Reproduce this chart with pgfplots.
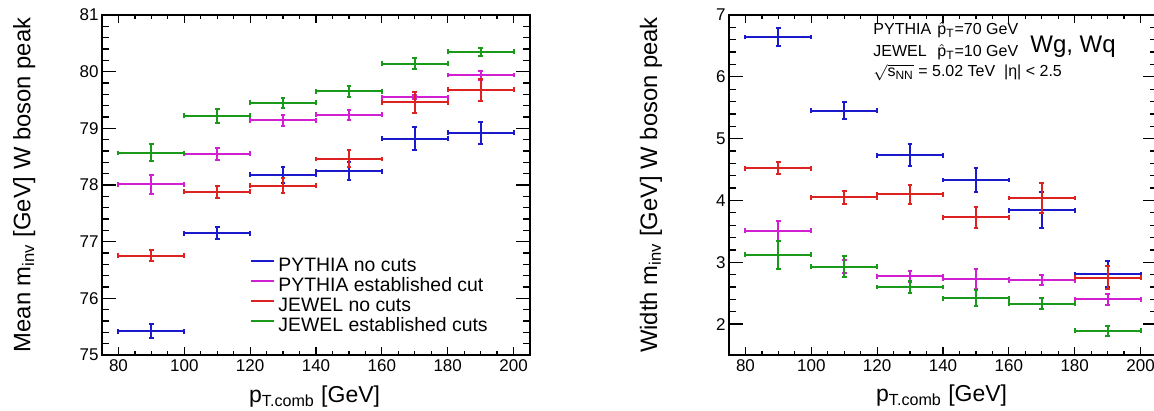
\documentclass[border=0pt]{standalone}
\usepackage{fontspec}
\setmainfont{Liberation Sans}
\usepackage{pgfplots}
\pgfplotsset{compat=1.18}
\definecolor{cblue}{HTML}{1A1ACC}
\definecolor{cmag}{HTML}{D21FD2}
\definecolor{cred}{HTML}{DD2222}
\definecolor{cgreen}{HTML}{1A9A1A}
\newcommand{\phat}{$\hat{\mbox{p}}$}
\pgfplotsset{
  rootstyle/.style={
    scale only axis, width=214pt, height=170pt,
    xmin=75, xmax=205, xtick={80,100,...,200}, minor x tick num=3,
    tick align=inside, tick pos=both,
    major tick length=7pt, minor tick length=3.5pt,
    xtick style={/pgfplots/major tick length=4pt, /pgfplots/minor tick length=2pt},
    axis line style={line width=0.8pt},
    tick style={line width=0.6pt, black},
    ticklabel style={font=\fontsize{8.5}{10}\selectfont},
    /pgf/number format/assume math mode=true,
    yticklabel style={inner xsep=1.5pt},
    xticklabel style={inner ysep=2pt},
  },
  ebar/.style={only marks, mark=text, text mark={}, line width=1pt,
    error bars/.cd, x dir=both, x explicit, y dir=both, y explicit,
    error bar style={line width=1pt},
    error mark options={rotate=90, line width=1pt, mark size=1.2pt},
    /pgfplots/.cd},
}
\begin{document}
\begin{tikzpicture}
\useasboundingbox (0,0) rectangle (577pt,205.5pt);
% ---------- left panel ----------
\begin{axis}[rootstyle, at={(51pt,28pt)}, anchor=south west,
  ymin=75, ymax=81, ytick={75,76,...,81}, minor y tick num=4,
  legend style={at={(0.346,0.291)}, anchor=north west, draw=none, fill=none,
    inner sep=0pt, row sep=0pt, font=\fontsize{9.7}{11}\selectfont,
    nodes={text height=7.5pt, text depth=2.5pt, inner sep=0pt, inner xsep=1.5pt}},
  legend cell align=left,
]
\addlegendimage{legend image code/.code={\draw[cblue,line width=1pt] (0pt,2.5pt) -- (11.5pt,2.5pt);}}
\addlegendentry{PYTHIA no cuts}
\addlegendimage{legend image code/.code={\draw[cmag,line width=1pt] (0pt,2.5pt) -- (11.5pt,2.5pt);}}
\addlegendentry{PYTHIA established cut}
\addlegendimage{legend image code/.code={\draw[cred,line width=1pt] (0pt,2.5pt) -- (11.5pt,2.5pt);}}
\addlegendentry{JEWEL no cuts}
\addlegendimage{legend image code/.code={\draw[cgreen,line width=1pt] (0pt,2.5pt) -- (11.5pt,2.5pt);}}
\addlegendentry{JEWEL established cuts}
\addplot[cblue, forget plot, ebar] coordinates {
 (90,75.42) +- (10,0.12)
 (110,77.15) +- (10,0.11)
 (130,78.18) +- (10,0.14)
 (150,78.24) +- (10,0.16)
 (170,78.82) +- (10,0.20)
 (190,78.92) +- (10,0.19)
};
\addplot[cmag, forget plot, ebar] coordinates {
 (90,78.01) +- (10,0.17)
 (110,78.55) +- (10,0.11)
 (130,79.14) +- (10,0.10)
 (150,79.24) +- (10,0.09)
 (170,79.55) +- (10,0.04)
 (190,79.94) +- (10,0.08)
};
\addplot[cred, forget plot, ebar] coordinates {
 (90,76.75) +- (10,0.10)
 (110,77.88) +- (10,0.11)
 (130,77.99) +- (10,0.13)
 (150,78.46) +- (10,0.15)
 (170,79.46) +- (10,0.19)
 (190,79.68) +- (10,0.19)
};
\addplot[cgreen, forget plot, ebar] coordinates {
 (90,78.565) +- (10,0.15)
 (110,79.22) +- (10,0.13)
 (130,79.45) +- (10,0.09)
 (150,79.65) +- (10,0.09)
 (170,80.14) +- (10,0.10)
 (190,80.35) +- (10,0.07)
};
\end{axis}
% ---------- right panel ----------
\begin{axis}[rootstyle, at={(364.5pt,28pt)}, anchor=south west,
  ymin=1.5, ymax=7, ytick={2,3,...,7}, minor y tick num=4,
]
\addplot[cblue, ebar] coordinates {
 (90,6.645) +- (10,0.14)
 (110,5.45) +- (10,0.14)
 (130,4.73) +- (10,0.18)
 (150,4.33) +- (10,0.20)
 (170,3.84) +- (10,0.29)
 (190,2.81) +- (10,0.21)
};
\addplot[cmag, ebar] coordinates {
 (90,3.51) +- (10,0.16)
 (110,2.93) +- (10,0.10)
 (130,2.77) +- (10,0.09)
 (150,2.73) +- (10,0.16)
 (170,2.71) +- (10,0.08)
 (190,2.40) +- (10,0.09)
};
\addplot[cred, ebar] coordinates {
 (90,4.52) +- (10,0.10)
 (110,4.05) +- (10,0.10)
 (130,4.10) +- (10,0.15)
 (150,3.73) +- (10,0.17)
 (170,4.04) +- (10,0.24)
 (190,2.75) +- (10,0.19)
};
\addplot[cgreen, ebar] coordinates {
 (90,3.12) +- (10,0.23)
 (110,2.93) +- (10,0.17)
 (130,2.60) +- (10,0.09)
 (150,2.42) +- (10,0.13)
 (170,2.33) +- (10,0.09)
 (190,1.89) +- (10,0.075)
};
\end{axis}
% ---------- labels ----------
\node[anchor=base, font=\fontsize{11.5}{13}\selectfont] at (157.3pt,4pt) {p\textsubscript{T.comb} [GeV]};
\node[anchor=base, font=\fontsize{11.5}{13}\selectfont] at (470.8pt,4.5pt) {p\textsubscript{T.comb} [GeV]};
\node[anchor=base, rotate=90, font=\fontsize{11.9}{13}\selectfont] at (15.2pt,113pt) {Mean m\textsubscript{inv} [GeV] W boson peak};
\node[anchor=base, rotate=90, font=\fontsize{11.9}{13}\selectfont] at (328.5pt,113pt) {Width m\textsubscript{inv} [GeV] W boson peak};
% annotations
\begin{scope}[every node/.style={inner sep=0pt, font=\fontsize{8}{9}\selectfont}]
\node[anchor=base west] at (436.5pt,188pt) {PYTHIA};
\node[anchor=base west] at (468.5pt,188pt) {\phat\textsubscript{T}=70 GeV};
\node[anchor=base west] at (436.5pt,177pt) {JEWEL};
\node[anchor=base west] at (468.5pt,177pt) {\phat\textsubscript{T}=10 GeV};
\node[anchor=base west] at (436.5pt,167pt) {$\sqrt{\mbox{s\textsubscript{NN}}}$ = 5.02 TeV \ |η| < 2.5};
\end{scope}
\node[anchor=base west, inner sep=0pt, font=\fontsize{12}{14}\selectfont] at (515pt,179pt) {Wg, Wq};
\end{tikzpicture}
\end{document}
